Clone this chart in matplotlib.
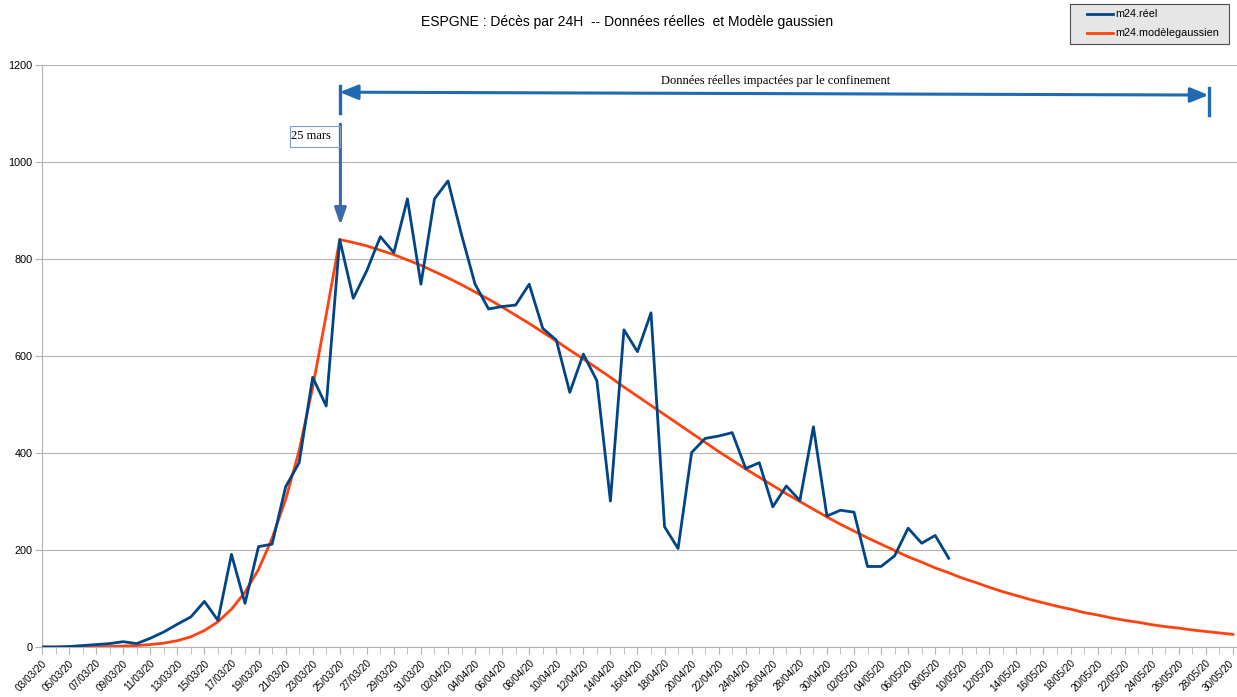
import matplotlib
matplotlib.use("Agg")
import matplotlib.pyplot as plt
import matplotlib.transforms as mtransforms
import pandas as pd
from matplotlib.patches import Rectangle
from matplotlib.lines import Line2D

# ---- data ----
dates = pd.date_range("2020-03-03", "2020-05-30", freq="D")
date_labels = [d.strftime("%d/%m/%y") for d in dates]

reel = [0, 0, 1, 3, 5, 7, 11, 7, 18, 31, 47, 62, 94, 55, 191, 90, 207, 212, 330, 380,
        556, 497, 840, 719, 776, 846, 813, 924, 748, 924, 961, 850, 748, 697, 702, 705,
        748, 657, 633, 525, 604, 549, 301, 654, 609, 689, 248, 203, 401, 430, 435, 442,
        368, 380, 289, 332, 302, 454, 270, 282, 278, 166, 166, 188, 245, 214, 230, 183]

modele = [0, 0, 0, 0, 1, 1, 2, 3, 5, 8, 13, 21, 34, 52, 78, 113, 160, 224, 304, 405,
          535, 685, 840, 834, 827, 818, 809, 798, 787, 774, 761, 747, 732, 717, 701, 684,
          667, 649, 631, 612, 594, 575, 556, 536, 517, 498, 479, 460, 441, 422, 403, 385,
          367, 350, 333, 316, 300, 284, 268, 253, 239, 225, 212, 199, 186, 175, 163, 153,
          142, 133, 123, 114, 106, 98, 91, 84, 78, 71, 66, 60, 55, 51, 46, 42, 39, 35,
          32, 29, 26]

series_names = ["m24.réel", "m24.modèlegaussien"]
series_colors = ["#004586", "#ff420e"]
yticks = [0, 200, 400, 600, 800, 1000, 1200]

title = "ESPGNE : Décès par 24H  -- Données réelles  et Modèle gaussien"
arrow_text = "Données réelles impactées par le confinement"
date_text = "25 mars"

W, H = 1237, 697

# ---- figure ----
plt.rcParams["font.family"] = ["Liberation Sans", "DejaVu Sans"]
fig = plt.figure(figsize=(W / 100, H / 100), dpi=100)
ax = fig.add_axes([42 / W, 50 / H, (W - 42) / W, (647 - 65) / H])

x_reel = list(range(len(reel)))
x_mod = list(range(len(modele)))
ax.plot(x_reel, reel, color=series_colors[0], lw=2.0, label=series_names[0], zorder=3)
ax.plot(x_mod, modele, color=series_colors[1], lw=2.0, label=series_names[1], zorder=2)

ax.set_xlim(0, 88.3)
ax.set_ylim(0, 1200)
ax.set_yticks(yticks)
ax.set_yticklabels([str(v) for v in yticks], fontsize=7.8)
ax.yaxis.grid(True, color="#b3b3b3", lw=0.8)
ax.set_axisbelow(True)

ax.set_xticks(range(0, len(dates), 2))
ax.set_xticklabels(date_labels[::2], rotation=45, ha="right", va="top",
                   rotation_mode="anchor", fontsize=7.2)
ax.set_xticks(range(len(dates)), minor=True)
ax.tick_params(axis="x", which="both", length=5, color="#b3b3b3", pad=3)
ax.tick_params(axis="y", length=5, color="#b3b3b3", pad=2)
# nudge the last label so it stays inside the canvas
last = ax.get_xticklabels()[-1]
last.set_transform(last.get_transform() +
                   mtransforms.ScaledTranslation(-4 / 100, 0, fig.dpi_scale_trans))

for side in ["top", "right"]:
    ax.spines[side].set_visible(False)
for side in ["left", "bottom"]:
    ax.spines[side].set_color("#b3b3b3")
    ax.spines[side].set_linewidth(0.8)

# title
fig.text(627 / W, 1 - 22 / H, title, ha="center", va="center", fontsize=10)

# horizontal double arrow (left head + right head)
hcol = "#1f6ab3"
ax.annotate("", xy=(22.0, 1144), xytext=(86.2, 1138),
            arrowprops=dict(arrowstyle="<|-|>,head_length=1.1,head_width=0.45",
                            color=hcol, lw=2.2, shrinkA=0, shrinkB=0),
            annotation_clip=False)
ax.plot([22.0, 22.0], [1101, 1157], color=hcol, lw=2.4, clip_on=False)
ax.plot([86.2, 86.2], [1097, 1153], color=hcol, lw=2.4, clip_on=False)
ax.text(54.2, 1168, arrow_text, ha="center", va="center", fontsize=9,
        family=["Liberation Serif", "DejaVu Serif"])

# vertical arrow at 25 mars
vcol = "#3a69ad"
ax.annotate("", xy=(22.05, 870), xytext=(22.05, 1078),
            arrowprops=dict(arrowstyle="-|>,head_length=1.0,head_width=0.35",
                            color=vcol, lw=2.2, shrinkA=0, shrinkB=0))
ax.add_patch(Rectangle((18.35, 1031), 3.7, 43, fill=False, edgecolor="#7d9ccf",
                       lw=0.8, zorder=4))
ax.text(18.4, 1053, date_text, ha="left", va="center", fontsize=9,
        family=["Liberation Serif", "DejaVu Serif"], zorder=5)

# legend box (drawn in figure coordinates)
fig.patches.append(Rectangle((1070 / W, 1 - 44 / H), 159 / W, 40 / H,
                             transform=fig.transFigure, facecolor="#e6e6e6",
                             edgecolor="#4d4d4d", lw=0.8, zorder=5))
for k, (name, col) in enumerate(zip(series_names, series_colors)):
    yy = 1 - (14 + 19 * k) / H
    fig.add_artist(Line2D([1087 / W, 1113 / W], [yy, yy], transform=fig.transFigure,
                          color=col, lw=2.0, zorder=6))
    fig.text(1115 / W, yy, name, ha="left", va="center", fontsize=7.8, zorder=6)

fig.savefig("out.png", dpi=100)
